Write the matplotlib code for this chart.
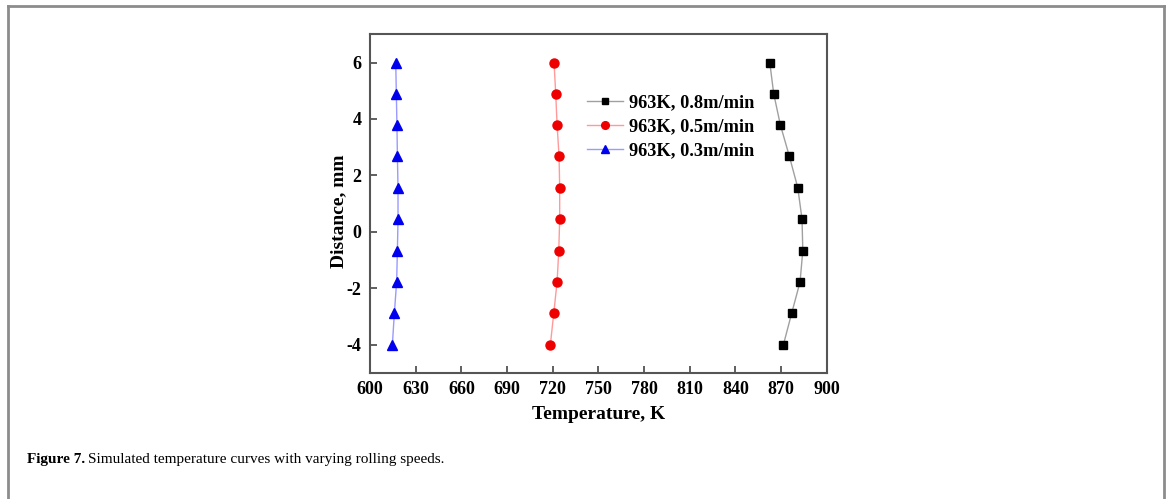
import matplotlib
matplotlib.use("Agg")
import matplotlib.pyplot as plt
from matplotlib.lines import Line2D

# distance through the sheet, mm
distance = [6, 4.89, 3.78, 2.67, 1.56, 0.44, -0.67, -1.78, -2.89, -4]

# temperature, K
temp_08 = [862.6, 865.2, 869.6, 875.5, 881.0, 883.8, 884.3, 882.5, 877.0, 871.6]
temp_05 = [720.9, 722.0, 722.9, 724.2, 724.6, 724.6, 724.0, 722.9, 720.7, 718.5]
temp_03 = [616.9, 617.3, 617.7, 618.0, 618.4, 618.4, 618.0, 617.5, 616.0, 614.7]

labels = ["963K, 0.8m/min", "963K, 0.5m/min", "963K, 0.3m/min"]
xticks = [600, 630, 660, 690, 720, 750, 780, 810, 840, 870, 900]
yticks = [-4, -2, 0, 2, 4, 6]

plt.rcParams["font.family"] = ["Liberation Serif", "DejaVu Serif"]
plt.rcParams["axes.unicode_minus"] = False

fig = plt.figure(figsize=(11.68, 4.99), dpi=100)
W, H = 1168, 499
ax = fig.add_axes([370 / W, 1 - 372.7 / H, 456.7 / W, 338.4 / H])

ax.plot(temp_08, distance, color="#a0a0a0", lw=1, marker="s", ms=5.5,
        mfc="black", mec="black", label=labels[0])
ax.plot(temp_05, distance, color="#ff9a9a", lw=1, marker="o", ms=6.5,
        mfc="#ee0000", mec="#ee0000", label=labels[1])
ax.plot(temp_03, distance, color="#9a9aff", lw=1, marker="^", ms=7,
        mfc="#0000ee", mec="#0000ee", label=labels[2])

ax.set_xlim(600, 900)
ax.set_ylim(-5, 7)
ax.set_xticks(xticks)
ax.set_yticks(yticks)
ax.tick_params(direction="in", length=5, width=1.2, color="#444444",
               labelsize=13, pad=6)
for lab in ax.get_xticklabels() + ax.get_yticklabels():
    lab.set_fontweight("bold")
for s in ["top", "right", "left", "bottom"]:
    ax.spines[s].set_color("#555555")
    ax.spines[s].set_linewidth(1.5)

ax.set_xlabel("Temperature, K", fontsize=14, fontweight="bold", labelpad=6)
ax.set_ylabel("Distance, mm", fontsize=14, fontweight="bold")
ax.yaxis.set_label_coords(-0.05, 0.478)

leg = ax.legend(loc="center left", bbox_to_anchor=(0.4745, 0.727),
                frameon=False, borderpad=0, borderaxespad=0,
                handlelength=2.0, handletextpad=0.3, labelspacing=0.38,
                markerscale=0.85,
                prop={"size": 13.2, "weight": "bold"})

# outer panel frame, open at the bottom
fc = "#8c8c8c"
fig.add_artist(Line2D([8 / W, 8 / W], [0, 1 - 6 / H], color=fc, lw=2))
fig.add_artist(Line2D([8 / W, 1164 / W], [1 - 6 / H, 1 - 6 / H], color=fc, lw=2))
fig.add_artist(Line2D([1164 / W, 1164 / W], [0, 1 - 6 / H], color=fc, lw=2))

# caption
cap_y = 1 - 460 / H
t1 = fig.text(27 / W, cap_y, "Figure 7.", fontsize=11, fontweight="bold", va="center")
fig.canvas.draw()
bb = t1.get_window_extent(fig.canvas.get_renderer())
fig.text(bb.x1 / W + 3 / W, cap_y, "Simulated temperature curves with varying rolling speeds.",
         fontsize=11, va="center")

fig.savefig("out.png", dpi=100)
